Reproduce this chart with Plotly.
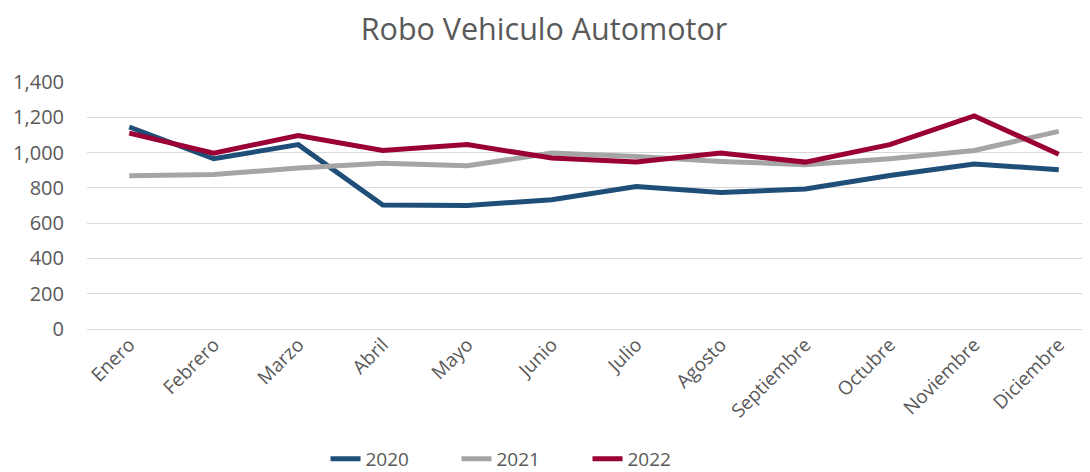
import plotly.graph_objects as go

meses = ["Enero", "Febrero", "Marzo", "Abril", "Mayo", "Junio", "Julio",
         "Agosto", "Septiembre", "Octubre", "Noviembre", "Diciembre"]
v2020 = [1145, 965, 1045, 703, 700, 733, 808, 774, 793, 870, 935, 903]
v2021 = [868, 876, 912, 940, 925, 997, 978, 950, 931, 965, 1012, 1120]
v2022 = [1110, 997, 1097, 1012, 1045, 969, 946, 997, 946, 1045, 1208, 991]

series = [("2020", v2020, "#1F4E79"), ("2021", v2021, "#A5A5A5"), ("2022", v2022, "#9A0036")]

fig = go.Figure()
for name, vals, col in series:
    fig.add_trace(go.Scatter(x=list(range(len(meses))), y=vals, name=name, mode="lines",
                             line=dict(color=col, width=5)))

# page body adds an 8px offset; compensate
OFF = 8
W, H = 1090 - OFF, 472 - OFF
left, top = 87 - OFF, 82 - OFF
plot_bottom = 329 - OFF
bottom = H - plot_bottom
plot_w = W - left
step = 84.5
xmax = plot_w / step - 0.5
FONT = "Open Sans, sans-serif"

fig.update_layout(
    width=W, height=H,
    margin=dict(l=left, r=0, t=top, b=bottom),
    paper_bgcolor="white", plot_bgcolor="white",
    font=dict(family=FONT, color="#595959", size=19),
    title=dict(text="Robo Vehiculo Automotor", x=(544 - OFF) / W, xref="container", xanchor="center",
               y=1 - (29 - OFF) / H, yref="container", yanchor="middle",
               font=dict(family=FONT, size=30.5, color="#595959")),
    legend=dict(orientation="h", x=(522 - OFF) / W, xref="container", xanchor="center",
                y=1 - (459 - OFF) / H, yref="container", yanchor="middle",
                font=dict(family=FONT, size=19, color="#595959"),
                entrywidth=86, entrywidthmode="pixels", tracegroupgap=0),
    showlegend=True,
)
fig.update_xaxes(range=[-0.5, xmax], tickvals=list(range(len(meses))), ticktext=meses,
                 tickangle=-45, showgrid=False, showline=False, zeroline=False, automargin=False,
                 tickfont=dict(family=FONT, size=19, color="#595959"), ticks="")
fig.update_yaxes(range=[0, 1400], dtick=200, tickformat=",", showgrid=True, gridcolor="#D9D9D9",
                 gridwidth=1, zeroline=True, zerolinecolor="#D9D9D9", zerolinewidth=1,
                 showline=False, ticks="", ticklabelstandoff=22, automargin=False,
                 tickfont=dict(family=FONT, size=20, color="#595959"))

fig.write_html("out.html")
